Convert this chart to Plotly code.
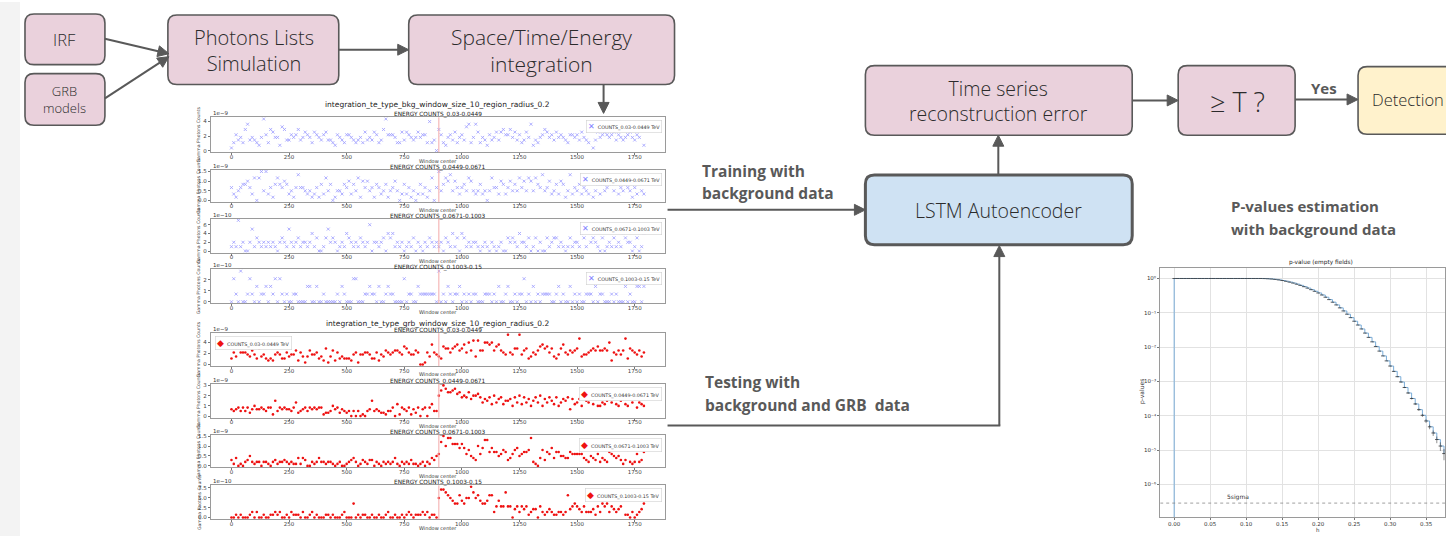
import math
import plotly.graph_objects as go

W, H = 1446, 537

# ------------------------------------------------------------------ data
window_centers = list(range(0, 1800, 10))      # window centres (180 windows)
grb_onset = 900                                 # injected GRB starts here
energy_bins = ["0.03-0.0449", "0.0449-0.0671", "0.0671-0.1003", "0.1003-0.15"]

# counts per window, written as quantised level indices (base-36 digits),
# one character per window; multiply by the bin's level step
bkg_e1_levels = ("1364538a45 4325c63875 5298446568 4576537654 6744326543 6654345374 "
                 "5476348c66 6533747654 575663b340 8632564735 649a35a735 4264574786 "
                 "6857463475 a243568756 4756543665 6475438147 5676567465 4567546582")
bkg_e2_levels = ("4213455642 7079392415 7546523148 4432312415 2735013325 4625371646 "
                 "3415423513 4630252413 0252413704 9357683642 4537632352 3037442652 "
                 "4635374637 6375483462 3526513824 3524326135 2534653624 3543142632")
bkg_e3_levels = ("1217120025 1321212121 0232152123 1221241300 1352320121 4321213212 "
                 "6022123043 4121201213 0210213212 1203214130 4312122101 2102101200 "
                 "3232142213 0130200312 3312101312 2143152321 0301213121 4322013014")
bkg_e4_levels = ("0310400131 0201120213 0310100110 0002200200 1000001021 0003300011 "
                 "2110200121 1000030110 0211111110 4010210112 0101011000 1110102001 "
                 "2001011301 0201011110 0120100201 0100111020 1100010100 0201002202")
grb_e1_levels = ("3649666547 5384532325 6533645572 6414755634 2814726343 3325615566 "
                 "5336254765 6776598655 7600164a65 43988689a7 8a6b7c4c77 bbab79a765 "
                 "f6588f5783 46579a8968 4358a65767 8d45567879 7787b26575 7d38765746")
grb_e2_levels = ("4345353524 6445435519 3545443582 3453545455 1223645243 2303030103 "
                 "4934322133 5071543514 2504505733 cfigeefgde bcbeaccdb8 a9b7c8ab79 "
                 "9a6b8c7b8a 69b8c6a8b9 7b68a9b4a7 8a6b98a7b6 6879a8a769 a76c8a5876")
grb_e3_levels = ("3140102352 1220221023 1223212114 1430021242 2122101200 1234201321 "
                 "3302102121 2410212131 1012021435 6cfaeebbb9 b968543a69 dd79775687 "
                 "3468956778 e210483769 4775544766 6664325436 2432765453 1382126237")
grb_e4_levels = ("0010100012 0200100112 1200102111 0200120100 0110100012 0005010110 "
                 "0100100120 0100101210 1112120110 7aa9876558 6577b97865 5688246449 "
                 "4403424341 2330421232 1122128345 4324222314 2545243234 7110201235")

# level step per energy bin (in units of the axis multiplier)
level_steps = [0.362, 0.1667, 1.0, 0.70]
grb_level_steps = [0.362, 0.1667, 0.10, 0.70]
multipliers = ["1e\u22129", "1e\u22129", "1e\u221210", "1e\u221210"]
grb_multipliers = ["1e\u22129", "1e\u22129", "1e\u22129", "1e\u221210"]
bkg_ytick_vals = [[0, 2, 4], [0, 0.5, 1.0, 1.5], [0, 2, 4, 6], [0, 1, 2]]
grb_ytick_vals = [[0, 2, 4], [0, 1, 2, 3], [0, 0.5, 1.0, 1.5], [0, 2.5, 5.0, 7.5]]
x_tick_vals = [0, 250, 500, 750, 1000, 1250, 1500, 1750]

# p-value curve (empty fields)
h_values = [round(0.005 * i, 3) for i in range(76)]
log10_pvalues = [0.0] * 25 + [
    -0.002, -0.007, -0.015, -0.026, -0.041, -0.059, -0.080, -0.105, -0.133, -0.165,
    -0.200, -0.238, -0.280, -0.325, -0.372, -0.422, -0.480, -0.545, -0.615, -0.690,
    -0.770, -0.855, -0.945, -1.040, -1.140, -1.245, -1.355, -1.470, -1.590, -1.715,
    -1.845, -1.980, -2.115, -2.255, -2.400, -2.550, -2.705, -2.860, -3.015, -3.175,
    -3.335, -3.495, -3.655, -3.820, -3.985, -4.150, -4.320, -4.500, -4.690, -4.880,
    -5.100]
pvalue_rel_err = [0.0] * 60 + [
    0.02, 0.02, 0.03, 0.03, 0.04, 0.05, 0.06, 0.07, 0.08, 0.10,
    0.12, 0.15, 0.18, 0.22, 0.28, 0.36]
p_floor = 1e-8
five_sigma_p = 2.87e-7

# ------------------------------------------------------------------ helpers
def X(px):
    return px / W


def Y(py):
    return 1 - py / H


FLOW_FONT = "Open Sans"
MPL_FONT = "DejaVu Sans"
EDGE = "#595959"

shapes = []
annotations = []
traces = []
layout_axes = {}

# light strip on the left
shapes.append(dict(type="rect", xref="paper", yref="paper", x0=0, x1=X(20), y0=0, y1=1,
                   fillcolor="#f3f3f3", line=dict(width=0), layer="below"))


def rounded_box(x0, y0, x1, y1, fill, lw=1.6, r=9):
    def p(px, py):
        return f"{X(px):.5f},{Y(py):.5f}"
    path = (f"M {p(x0 + r, y0)} L {p(x1 - r, y0)} Q {p(x1, y0)} {p(x1, y0 + r)} "
            f"L {p(x1, y1 - r)} Q {p(x1, y1)} {p(x1 - r, y1)} L {p(x0 + r, y1)} "
            f"Q {p(x0, y1)} {p(x0, y1 - r)} L {p(x0, y0 + r)} Q {p(x0, y0)} {p(x0 + r, y0)} Z")
    shapes.append(dict(type="path", xref="paper", yref="paper", path=path,
                       fillcolor=fill, line=dict(color=EDGE, width=lw)))


def text(px, py, s, size, color="#2b2b2b", bold=False, xanchor="center", yanchor="middle",
         family=FLOW_FONT, angle=0, weight=None, pad=1):
    a = dict(x=X(px), y=Y(py), xref="paper", yref="paper", text=s, showarrow=False,
             xanchor=xanchor, yanchor=yanchor, textangle=angle, borderpad=pad,
             font=dict(family=family, size=size, color=color))
    if weight is not None:
        a["font"]["weight"] = weight
    if bold:
        a["font"]["weight"] = "bold"
    annotations.append(a)


def seg(p0, p1):
    shapes.append(dict(type="line", xref="paper", yref="paper", x0=X(p0[0]), y0=Y(p0[1]),
                       x1=X(p1[0]), y1=Y(p1[1]), line=dict(color=EDGE, width=2)))


def arrow(tail, head, hl=11, hw=5.5):
    dx, dy = head[0] - tail[0], head[1] - tail[1]
    L = math.hypot(dx, dy)
    ux, uy = dx / L, dy / L
    bx, by = head[0] - ux * hl, head[1] - uy * hl
    seg(tail, (bx + ux, by + uy))
    px_, py_ = -uy, ux
    pts = [head, (bx + px_ * hw, by + py_ * hw), (bx - px_ * hw, by - py_ * hw)]
    path = "M " + " L ".join(f"{X(a):.5f},{Y(b):.5f}" for a, b in pts) + " Z"
    shapes.append(dict(type="path", xref="paper", yref="paper", path=path,
                       fillcolor=EDGE, line=dict(color=EDGE, width=1)))


PINK, BLUE, YELLOW = "#ead1dc", "#cfe2f3", "#fff2cc"
LW = 300

# ------------------------------------------------------------------ flowchart boxes
rounded_box(25, 12, 105, 63, PINK)
text(65, 38, "IRF", 16.5, weight=LW)
rounded_box(25, 72, 105, 124, PINK)
text(65, 98, "GRB<br>models", 13, weight=LW)
rounded_box(168, 13, 339, 83, PINK)
text(254, 48.5, "Photons Lists<br>Simulation", 20, weight=LW, pad=0)
rounded_box(409, 13, 675, 83, PINK)
text(542, 48.5, "Space/Time/Energy<br>integration", 21, weight=LW, pad=0)
rounded_box(866, 64, 1133, 134, PINK)
text(999, 99.5, "Time series<br>reconstruction error", 19.5, weight=LW, pad=0)
rounded_box(1179, 64, 1296, 134, PINK)
text(1238, 100, "\u2265 T ?", 27, weight=LW)
rounded_box(1359, 65, 1470, 133, YELLOW)
text(1372, 98, "Detection", 16.5, xanchor="left", weight=LW, pad=0)
rounded_box(866, 174, 1133, 244, BLUE, lw=3)
text(999, 210, "LSTM Autoencoder", 19.5, weight=LW)

arrow((105, 37), (169, 52))
arrow((105, 97), (169, 55))
arrow((339, 48), (409, 48))
arrow((604, 83), (604, 112))
arrow((1133, 99), (1179, 99))
arrow((1296, 98), (1359, 98))
text(1325, 86, "Yes", 15, color=EDGE, bold=True)
arrow((999, 174), (999, 134))
arrow((668, 209), (866, 209))
seg((668, 426), (1001, 426))
arrow((1000, 426), (1000, 245))

text(700, 170, "Training with", 15.5, color=EDGE, bold=True, xanchor="left")
text(700, 192, "background data", 15.5, color=EDGE, bold=True, xanchor="left")
text(703, 382, "Testing with", 15.5, color=EDGE, bold=True, xanchor="left")
text(703, 405, "background and GRB  data", 15.5, color=EDGE, bold=True, xanchor="left")
text(1230, 205, "P-values estimation", 15, color=EDGE, bold=True, xanchor="left")
text(1230, 228, "with background data", 15, color=EDGE, bold=True, xanchor="left")

# ------------------------------------------------------------------ mini time-series charts
BOX_L, BOX_R = 211, 665
box_rows = [(116, 151), (169, 201), (218, 252), (269, 303),
            (333, 366), (384, 418), (435, 468), (486, 520)]

series = []
for k in range(4):
    series.append(dict(levels=[bkg_e1_levels, bkg_e2_levels, bkg_e3_levels, bkg_e4_levels][k],
                       step=level_steps[k], mult=multipliers[k], ticks=bkg_ytick_vals[k],
                       kind="bkg", ebin=energy_bins[k]))
for k in range(4):
    series.append(dict(levels=[grb_e1_levels, grb_e2_levels, grb_e3_levels, grb_e4_levels][k],
                       step=grb_level_steps[k], mult=grb_multipliers[k], ticks=grb_ytick_vals[k],
                       kind="grb", ebin=energy_bins[k]))

text(438, 103, "integration_te_type_bkg_window_size_10_region_radius_0.2", 7.5,
     family=MPL_FONT, color="#222", pad=0)
text(438, 323, "integration_te_type_grb_window_size_10_region_radius_0.2", 7.5,
     family=MPL_FONT, color="#222", pad=0)

for i, s in enumerate(series):
    n = i + 1
    xa = "x" if n == 1 else f"x{n}"
    ya = "y" if n == 1 else f"y{n}"
    top, bot = box_rows[i]
    codes = s["levels"].replace(" ", "")
    vals = [int(c, 36) * s["step"] for c in codes]
    xs = window_centers[:len(vals)]
    if s["kind"] == "bkg":
        marker = dict(symbol="x-thin", size=3, color="#9a9aff",
                      line=dict(width=0.8, color="#9a9aff"))
    else:
        marker = dict(symbol="circle", size=2.6, color="#ee1111", line=dict(width=0))
    traces.append(go.Scatter(x=xs, y=vals, mode="markers", marker=marker,
                             xaxis=xa, yaxis=ya, showlegend=False, hoverinfo="skip"))
    vmax, vmin = max(vals), 0.0
    pad = 0.05 * (vmax - vmin)
    axis_common = dict(showline=True, mirror=True, linecolor="#9a9a9a", linewidth=1,
                       showgrid=False, zeroline=False, ticks="outside", ticklen=2,
                       tickcolor="#777", tickfont=dict(family=MPL_FONT, size=5.5, color="#444"))
    layout_axes["xaxis" if n == 1 else f"xaxis{n}"] = dict(
        domain=[X(BOX_L), X(BOX_R)], anchor=ya, range=[-89.5, 1879.5],
        tickvals=x_tick_vals, ticktext=[str(v) for v in x_tick_vals],
        ticklabelstandoff=-3, **axis_common)
    ticks = s["ticks"]
    tt = [f"{v:.1f}" if any(t % 1 for t in ticks) else f"{v:g}" for v in ticks]
    layout_axes["yaxis" if n == 1 else f"yaxis{n}"] = dict(
        domain=[Y(bot), Y(top)], anchor=xa, range=[vmin - pad, vmax + pad],
        tickvals=ticks, ticktext=tt, **axis_common)
    shapes.append(dict(type="line", xref=xa, yref=f"{ya} domain", x0=grb_onset, x1=grb_onset,
                       y0=0, y1=1, line=dict(color="#f3a8a8", width=1)))
    # titles and labels
    text(438, top - 2.5, f"ENERGY COUNTS_{s['ebin']}", 5.8, family=MPL_FONT, color="#222",
         pad=0)
    text(212, top, s["mult"], 5.5, family=MPL_FONT, color="#333", xanchor="left",
         yanchor="bottom", pad=0)
    text(199, (top + bot) / 2, "Gamma Photons Counts", 4.6, family=MPL_FONT, color="#444",
         angle=-90, pad=0)
    text(438, bot + 8.5, "Window center", 5, family=MPL_FONT, color="#333", pad=0)
    if s["kind"] == "bkg":
        leg = f"<span style='color:#8080ff;font-size:8px'>\u2715</span>  COUNTS_{s['ebin']} TeV"
    else:
        leg = f"<span style='color:#ee1111;font-size:9px'>\u25c6</span>  COUNTS_{s['ebin']} TeV"
    left_legend = (i == 4)
    annotations.append(dict(
        x=X(215 if left_legend else 662), y=Y(top + 3), xref="paper", yref="paper",
        text=leg, showarrow=False, xanchor="left" if left_legend else "right", yanchor="top",
        font=dict(family=MPL_FONT, size=4.8, color="#333"), bgcolor="white",
        bordercolor="#d0d0d0", borderwidth=0.6, borderpad=1.5))

# ------------------------------------------------------------------ p-value chart
pvals = [10 ** v for v in log10_pvalues]
perr = [p * e for p, e in zip(pvals, pvalue_rel_err)]
traces.append(go.Scatter(x=[h_values[0]] + h_values, y=[p_floor] + pvals, mode="lines",
                         line=dict(color="#79acd8", width=1, shape="hv"),
                         xaxis="x9", yaxis="y9", showlegend=False, hoverinfo="skip"))
traces.append(go.Scatter(x=h_values, y=pvals, mode="markers",
                         marker=dict(symbol="line-ew", size=2.5, color="#333",
                                     line=dict(width=0.8, color="#333")),
                         error_y=dict(type="data", array=perr, color="#444", thickness=0.6,
                                      width=0),
                         xaxis="x9", yaxis="y9", showlegend=False, hoverinfo="skip"))
pv_xrange = [-0.0194, 0.3764]
traces.append(go.Scatter(x=pv_xrange, y=[five_sigma_p, five_sigma_p], mode="lines",
                         line=dict(color="#888", width=0.8, dash="dot"),
                         xaxis="x9", yaxis="y9", showlegend=False, hoverinfo="skip"))
pv_common = dict(showline=True, mirror=True, linecolor="#9a9a9a", linewidth=1,
                 showgrid=True, gridcolor="#e2e2e2", gridwidth=1, zeroline=False,
                 ticks="outside", ticklen=2, tickcolor="#777",
                 tickfont=dict(family=MPL_FONT, size=5.5, color="#333"))
pv_xticks = [0.0, 0.05, 0.10, 0.15, 0.20, 0.25, 0.30, 0.35]
layout_axes["xaxis9"] = dict(domain=[X(1161), 1.0], anchor="y9", range=pv_xrange,
                             tickvals=pv_xticks, ticktext=[f"{v:.2f}" for v in pv_xticks],
                             ticklabelstandoff=-1, **pv_common)
superscripts = {"0": "\u2070", "1": "\u00b9", "2": "\u00b2", "3": "\u00b3", "4": "\u2074",
                "5": "\u2075", "6": "\u2076"}
pv_yticks = [10.0 ** (-k) for k in range(0, 7)]
pv_ytext = ["10" + superscripts["0"]] + ["10\u207b" + superscripts[str(k)] for k in range(1, 7)]
layout_axes["yaxis9"] = dict(domain=[Y(518), Y(267)], anchor="x9", type="log",
                             range=[-6.95, 0.32], tickvals=pv_yticks, ticktext=pv_ytext,
                             **pv_common)
annotations.append(dict(x=0.07, y=math.log10(five_sigma_p), xref="x9", yref="y9",
                        text="5sigma", showarrow=False, xanchor="left", yanchor="bottom",
                        font=dict(family=MPL_FONT, size=6, color="#333")))
text(1322, 262, "p-value (empty fields)", 5.8, family=MPL_FONT, color="#222", pad=0)
text(1319, 531, "h", 5.5, family=MPL_FONT, color="#333", pad=0)
text(1143, 392, "p-values", 6, family=MPL_FONT, color="#333", angle=-90, pad=0)

# ------------------------------------------------------------------ figure
fig = go.Figure(data=traces)
fig.update_layout(width=W, height=H, margin=dict(l=0, r=0, t=0, b=0),
                  paper_bgcolor="white", plot_bgcolor="white",
                  shapes=shapes, annotations=annotations, showlegend=False,
                  **layout_axes)
fig.write_html("out.html", config={"displayModeBar": False})
